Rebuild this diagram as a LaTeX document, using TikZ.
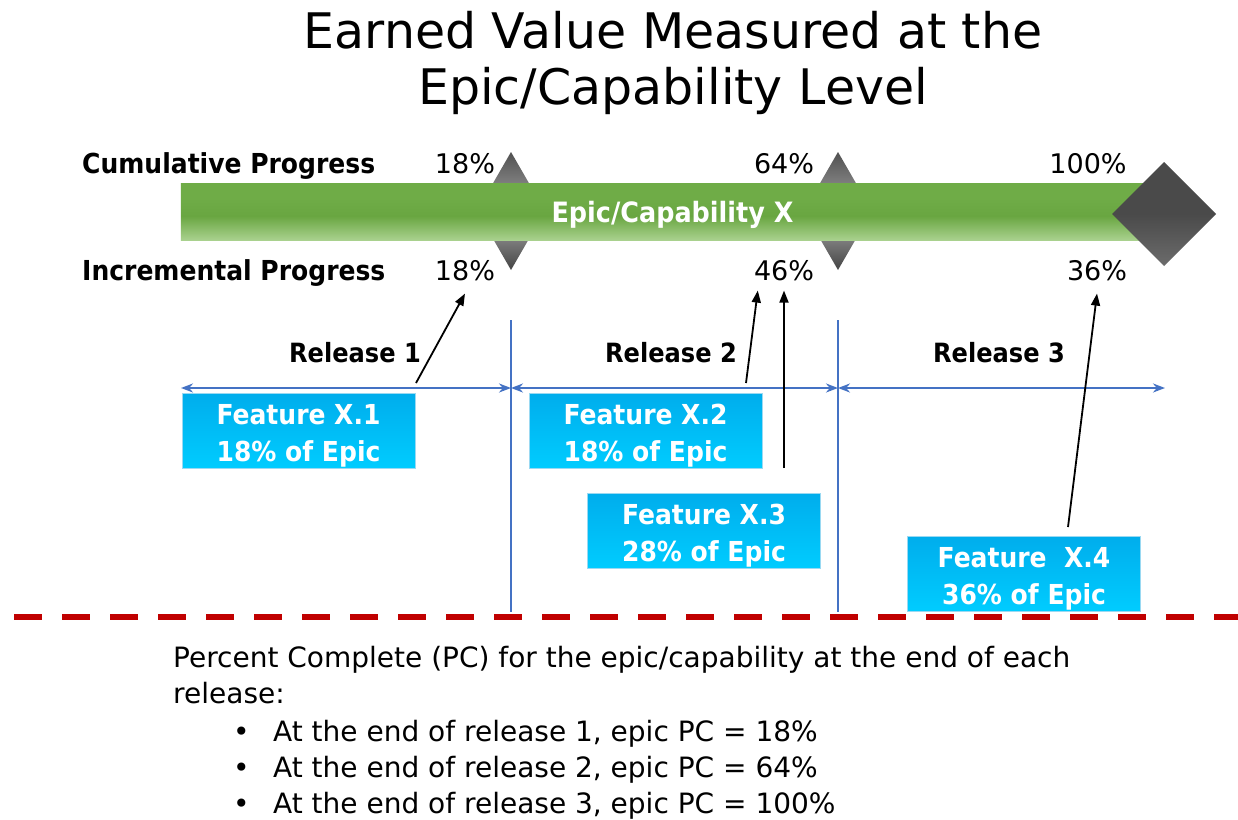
\documentclass[tikz,border=0pt]{standalone}
\usepackage{fontspec}
\setmainfont{DejaVu Sans}[BoldFeatures={FakeStretch=0.91}]
\usetikzlibrary{arrows.meta}

\definecolor{barTop}{HTML}{6FAC47}
\definecolor{barMid}{HTML}{69A641}
\definecolor{barBot}{HTML}{A9D18E}
\definecolor{boxTop}{HTML}{00ADEC}
\definecolor{boxBot}{HTML}{00CCFF}
\definecolor{boxEdge}{HTML}{9AD9F2}
\definecolor{relBlue}{HTML}{4472C4}
\definecolor{cutRed}{HTML}{C00000}
\definecolor{diaDark}{HTML}{444444}
\definecolor{diaLight}{HTML}{7E7E7E}
\definecolor{diaTop}{HTML}{505050}
\definecolor{bigTop}{HTML}{4A4A4A}
\definecolor{bigBot}{HTML}{6C6C6C}

% stops at 25bp and 75bp are the lower and upper edges of the filled path
\pgfdeclareverticalshading{epicbar}{100bp}{color(0bp)=(barBot); color(25bp)=(barBot);
  color(46bp)=(barMid); color(62bp)=(barTop); color(75bp)=(barTop); color(100bp)=(barTop)}
\pgfdeclareverticalshading{milestone}{100bp}{color(0bp)=(diaDark); color(25bp)=(diaDark);
  color(38bp)=(diaLight); color(62bp)=(diaLight); color(75bp)=(diaTop); color(100bp)=(diaTop)}
\pgfdeclareverticalshading{finalstone}{100bp}{color(0bp)=(bigBot); color(25bp)=(bigBot);
  color(50bp)=(bigTop); color(100bp)=(bigTop)}

\newcommand{\firstline}{\rule{0pt}{30bp}}

\tikzset{
  headtxt/.style={inner sep=0pt, anchor=base, font=\fontsize{49bp}{56bp}\selectfont},
  rowlabel/.style={inner sep=0pt, anchor=base west, font=\bfseries\fontsize{27.5bp}{33bp}\selectfont},
  relname/.style={inner sep=0pt, anchor=base, font=\bfseries\fontsize{26.5bp}{32bp}\selectfont},
  pct/.style={inner sep=0pt, anchor=base, font=\fontsize{27bp}{33bp}\selectfont},
  epicbar/.style={shading=epicbar, minimum width=983bp, minimum height=57bp, inner sep=0pt,
    text=white, font=\bfseries\fontsize{28bp}{33bp}\selectfont, text height=26bp, text depth=5bp},
  feature/.style={top color=boxTop, bottom color=boxBot, draw=boxEdge, line width=0.8bp,
    minimum width=233bp, minimum height=75bp, inner sep=0pt, align=center, text=white,
    font=\bfseries\fontsize{27.5bp}{37bp}\selectfont},
  relspan/.style={draw=relBlue, line width=2.4bp,
    {Stealth[length=12bp,width=9bp]}-{Stealth[length=12bp,width=9bp]}},
  divider/.style={draw=relBlue, line width=2.4bp},
  pointer/.style={draw=black, line width=1.8bp, -{Triangle[length=12bp,width=9bp]}},
  cutline/.style={draw=cutRed, line width=6.5bp, dash pattern=on 28bp off 20bp},
  bodytxt/.style={inner sep=0pt, anchor=base west, font=\fontsize{28bp}{33bp}\selectfont},
}

\begin{document}
\begin{tikzpicture}[x=1bp,y=-1bp]
\useasboundingbox (0,0) rectangle (1238,820);
\fill[white] (0,0) rectangle (1238,820);

% heading
\node[headtxt] (title1) at (673,49) {Earned Value Measured at the};
\node[headtxt] (title2) at (673,105) {Epic/Capability Level};

% row labels
\node[rowlabel] (cumlbl) at (82,173) {Cumulative Progress};
\node[rowlabel] (inclbl) at (82,280) {Incremental Progress};

% milestone markers behind the bar
\shade[shading=milestone] (511,152) -- (545,211) -- (511,270) -- (477,211) -- cycle;
\shade[shading=milestone] (838,152) -- (872,211) -- (838,270) -- (804,211) -- cycle;

% epic bar
\node[epicbar] (epic) at (672.5,211.5) {Epic/Capability X};

% final milestone over the bar end
\shade[shading=finalstone] (1164,162) -- (1216,214) -- (1164,266) -- (1112,214) -- cycle;

% cumulative percentages
\node[pct] (cum18) at (465,173) {18\%};
\node[pct] (cum64) at (784,173) {64\%};
\node[pct] (cum100) at (1088,173) {100\%};

% incremental percentages
\node[pct] (inc18) at (465,280) {18\%};
\node[pct] (inc46) at (784,280) {46\%};
\node[pct] (inc36) at (1097,280) {36\%};

% release boundaries
\coordinate (v1top) at (511,320);
\coordinate (v1bot) at (511,612);
\coordinate (v2top) at (838,320);
\coordinate (v2bot) at (838,612);
\draw[divider] (v1top) -- (v1bot);
\draw[divider] (v2top) -- (v2bot);

% release names
\node[relname] (rel1) at (355,362) {Release 1};
\node[relname] (rel2) at (671,362) {Release 2};
\node[relname] (rel3) at (999,362) {Release 3};

% release spans
\coordinate (s0) at (181,388);
\coordinate (s1) at (511,388);
\coordinate (s2) at (838,388);
\coordinate (s3) at (1165,388);
\draw[relspan] (s0) -- (s1);
\draw[relspan] (s1) -- (s2);
\draw[relspan] (s2) -- (s3);

% features
\node[feature] (f1) at (298.5,430.5) {\firstline Feature X.1\\18\% of Epic};
\node[feature] (f2) at (645.5,430.5) {\firstline Feature X.2\\18\% of Epic};
\node[feature] (f3) at (704,530.5) {\firstline Feature X.3\\28\% of Epic};
\node[feature] (f4) at (1024,573.5) {\firstline Feature\ \ X.4\\36\% of Epic};

% contribution pointers
\coordinate (t1) at (416,383);
\coordinate (t2) at (746,383);
\coordinate (t3) at (784,468);
\coordinate (t4) at (1068,527);
\draw[pointer] (t1) -- ([yshift=-13bp]inc18.south);
\draw[pointer] (t2) -- ([shift={(4bp,-10bp)}]inc46.south west);
\draw[pointer] (t3) -- ([yshift=-10bp]inc46.south);
\draw[pointer] (t4) -- ([yshift=-13bp]inc36.south);

% separator
\coordinate (cutL) at (14,617);
\coordinate (cutR) at (1238,617);
\draw[cutline] (cutL) -- (cutR);

% summary
\node[bodytxt] (sum1) at (173,667) {Percent Complete (PC) for the epic/capability at the end of each};
\node[bodytxt] (sum2) at (173,703) {release:};
\node[bodytxt] (b1) at (233,741) {\makebox[40bp][l]{•}At the end of release 1, epic PC = 18\%};
\node[bodytxt] (b2) at (233,777) {\makebox[40bp][l]{•}At the end of release 2, epic PC = 64\%};
\node[bodytxt] (b3) at (233,813) {\makebox[40bp][l]{•}At the end of release 3, epic PC = 100\%};
\end{tikzpicture}
\end{document}
